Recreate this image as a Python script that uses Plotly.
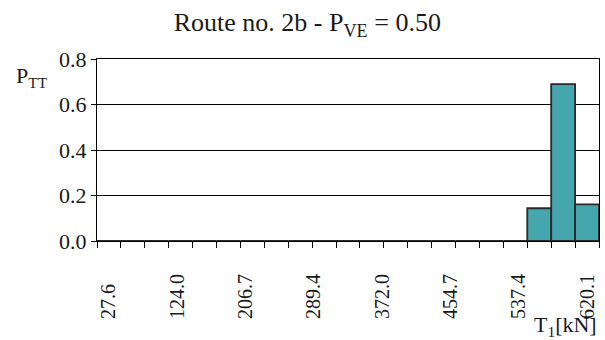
import numpy as np
import plotly.graph_objects as go

# Histogram of P_TT over the T1 force bins (21 bins)
p_tt = [0.0, 0.0, 0.0, 0.0, 0.0, 0.0, 0.0, 0.0, 0.0, 0.0, 0.0,
        0.0, 0.0, 0.0, 0.0, 0.0, 0.0, 0.0, 0.144, 0.690, 0.161]
bin_labels = ["27.6", "124.0", "206.7", "289.4", "372.0", "454.7", "537.4", "620.1"]
y_ticks = [0.0, 0.2, 0.4, 0.6, 0.8]

n_bins = len(p_tt)
centers = np.arange(n_bins) + 0.5
# labels spread evenly from the first to the last bin centre
label_pos = np.linspace(centers[0], centers[-1], len(bin_labels))
# rotated labels are aligned at their start, so pad short ones at the end
width = max(len(s) for s in bin_labels)
label_text = [s + "\u2007" * (width - len(s)) for s in bin_labels]

FONT = "Liberation Serif, Times New Roman, serif"
INK = "#1a1a1a"

fig = go.Figure(
    go.Bar(
        x=centers,
        y=p_tt,
        width=1.0,
        marker=dict(color="#46A6AE", line=dict(color="#2a2a2a", width=1.8)),
        hoverinfo="skip",
    )
)

fig.update_layout(
    width=605,
    height=340,
    margin=dict(l=97, r=6, t=59, b=99),
    paper_bgcolor="white",
    plot_bgcolor="white",
    showlegend=False,
    font=dict(family=FONT, size=21, color=INK),
    title=dict(
        text="Route no. 2b - P<sub>VE</sub> = 0.50",
        font=dict(family=FONT, size=26, color=INK),
        x=0.508,
        xref="container",
        xanchor="center",
        y=0.935,
        yref="container",
        yanchor="middle",
    ),
    xaxis=dict(
        range=[0, n_bins],
        tickmode="array",
        tickvals=label_pos,
        ticktext=label_text,
        tickangle=-90,
        tickfont=dict(family=FONT, size=20, color=INK),
        ticks="",
        ticklabelstandoff=24,
        showgrid=False,
        zeroline=False,
        showline=True,
        mirror=True,
        linecolor="black",
        linewidth=1,
        minor=dict(
            tickmode="array",
            tickvals=list(range(n_bins + 1)),
            ticks="outside",
            ticklen=6,
            tickwidth=1,
            tickcolor="black",
            showgrid=False,
        ),
    ),
    yaxis=dict(
        range=[0, 0.8],
        tickmode="array",
        tickvals=y_ticks,
        tickformat=".1f",
        tickfont=dict(family=FONT, size=22, color=INK),
        ticks="outside",
        ticklen=5,
        tickcolor="black",
        showgrid=True,
        gridcolor="black",
        gridwidth=1,
        zeroline=False,
        showline=True,
        mirror=True,
        linecolor="black",
        linewidth=1,
    ),
    annotations=[
        dict(
            text="P<sub>TT</sub>",
            xref="paper", yref="paper",
            x=-0.165, y=0.90,
            xanchor="left", yanchor="middle",
            showarrow=False,
            font=dict(family=FONT, size=22, color=INK),
        ),
        dict(
            text="T<sub>1</sub>[kN]",
            xref="paper", yref="paper",
            x=1.0, y=-0.465,
            xanchor="right", yanchor="middle",
            showarrow=False,
            font=dict(family=FONT, size=22, color=INK),
        ),
    ],
)

fig.write_html("out.html")
